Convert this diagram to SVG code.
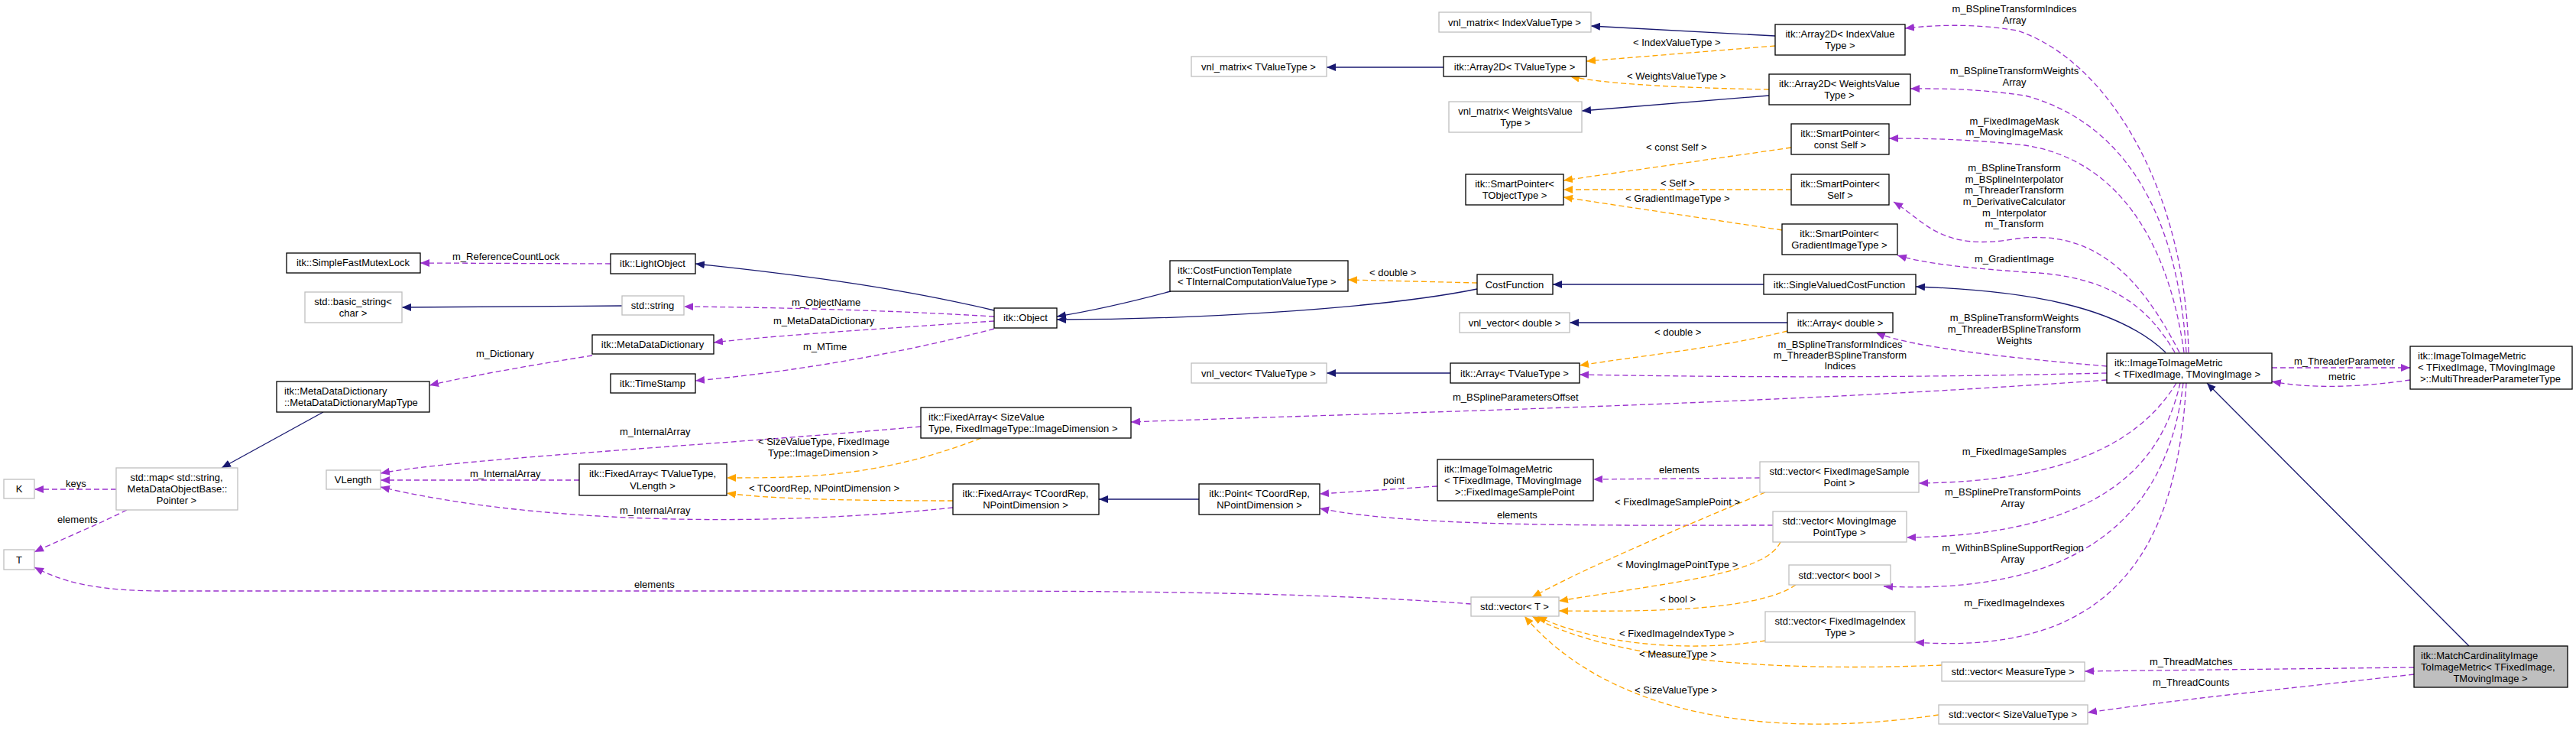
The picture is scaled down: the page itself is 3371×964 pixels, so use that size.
<svg xmlns="http://www.w3.org/2000/svg" width="3371" height="964" viewBox="0 0 3371 964">
<style>
text{font-family:"Liberation Sans",Arial,sans-serif;font-size:13px;fill:#000}
.n rect{fill:#fff;stroke:#000;stroke-width:1.3}
.g rect{fill:#fff;stroke:#bfbfbf;stroke-width:1.3}
.c{text-anchor:middle}
.s{fill:none;stroke:#191970;stroke-width:1.3}
.p{fill:none;stroke:#9a32cd;stroke-width:1.3;stroke-dasharray:7,4}
.o{fill:none;stroke:#ffa500;stroke-width:1.3;stroke-dasharray:7,4}
.s{marker-end:url(#ms)}.p{marker-end:url(#mp)}.o{marker-end:url(#mo)}
</style>
<defs>
<marker id="ms" viewBox="0 0 12 10" refX="12" refY="5" markerWidth="12" markerHeight="10" markerUnits="userSpaceOnUse" orient="auto"><path d="M0,0L12,5L0,10z" fill="#191970"/></marker>
<marker id="mp" viewBox="0 0 12 10" refX="12" refY="5" markerWidth="12" markerHeight="10" markerUnits="userSpaceOnUse" orient="auto"><path d="M0,0L12,5L0,10z" fill="#9a32cd"/></marker>
<marker id="mo" viewBox="0 0 12 10" refX="12" refY="5" markerWidth="12" markerHeight="10" markerUnits="userSpaceOnUse" orient="auto"><path d="M0,0L12,5L0,10z" fill="#ffa500"/></marker>
</defs>
<rect width="3371" height="964" fill="#fff"/>
<g id="connectors">
<path class="p" d="M799,345 L550,344"/>
<path class="s" d="M814,400 L526,402"/>
<path class="s" d="M1301,406 C1150,370 1000,355 910,345"/>
<path class="p" d="M1301,414 C1150,405 1000,402 895,401"/>
<path class="p" d="M1301,420 C1150,430 1000,440 934,448"/>
<path class="p" d="M1301,430 C1150,470 1000,490 910,498"/>
<path class="s" d="M1532,381 C1480,395 1420,408 1383,414"/>
<path class="s" d="M1933,378 C1800,405 1550,418 1383,418"/>
<path class="p" d="M775,465 C680,480 600,495 562,504"/>
<path class="s" d="M423,539 L290,612"/>
<path class="p" d="M152,640 L45,640"/>
<path class="p" d="M166,667 C120,690 70,710 45,722"/>
<path class="p" d="M1205,558 C900,585 600,600 498,619"/>
<path class="p" d="M758,628 L498,628"/>
<path class="p" d="M1247,664 C1000,690 700,685 498,637"/>
<path class="o" d="M1284,573 C1150,625 1050,625 951,625"/>
<path class="o" d="M1247,655 C1100,655 1000,652 951,645"/>
<path class="s" d="M1569,653 L1438,653"/>
<path class="p" d="M1881,636 L1727,646"/>
<path class="p" d="M2320,687 C2100,687 1850,690 1727,665"/>
<path class="p" d="M2303,625 L2085,627"/>
<path class="p" d="M2757,497 C2300,530 1800,540 1480,552"/>
<path class="p" d="M2757,488 C2500,494 2300,494 2067,490"/>
<path class="p" d="M2757,479 C2650,470 2500,455 2455,435"/>
<path class="o" d="M2339,433 C2250,455 2150,465 2067,478"/>
<path class="s" d="M2339,422 L2054,422"/>
<path class="s" d="M1898,488 L1736,488"/>
<path class="o" d="M1933,370 L1764,366"/>
<path class="s" d="M2308,372 L2032,372"/>
<path class="s" d="M2834,461 C2770,400 2650,380 2507,375"/>
<path class="s" d="M2323,47 L2082,34"/>
<path class="o" d="M2323,60 L2076,80"/>
<path class="s" d="M1889,88 L1736,88"/>
<path class="o" d="M2315,117 C2200,115 2100,110 2055,100"/>
<path class="s" d="M2315,125 L2070,145"/>
<path class="o" d="M2344,193 L2046,236"/>
<path class="o" d="M2344,248 L2046,248"/>
<path class="o" d="M2332,301 L2046,258"/>
<path class="p" d="M2864,461 C2860,250 2760,80 2640,40 C2580,30 2530,33 2493,37"/>
<path class="p" d="M2861,461 C2850,280 2780,160 2650,125 C2580,115 2530,116 2500,116"/>
<path class="p" d="M2858,461 C2840,330 2780,210 2650,190 C2580,182 2520,181 2472,181"/>
<path class="p" d="M2852,461 C2800,360 2740,300 2640,312 C2540,330 2520,290 2478,264"/>
<path class="p" d="M2846,461 C2810,400 2760,360 2650,356 C2570,350 2520,345 2483,334"/>
<path class="p" d="M2848,501 C2800,580 2700,630 2511,632"/>
<path class="p" d="M2853,501 C2830,600 2760,700 2495,703"/>
<path class="p" d="M2857,501 C2840,650 2750,780 2465,767"/>
<path class="p" d="M2861,501 C2850,700 2780,860 2506,840"/>
<path class="p" d="M2973,481 L3154,481"/>
<path class="p" d="M3154,497 C3100,505 3030,510 2973,499"/>
<path class="s" d="M3231,845 L2888,501"/>
<path class="p" d="M3159,873 L2728,878"/>
<path class="p" d="M3159,882 C3000,900 2850,915 2732,932"/>
<path class="o" d="M2310,644 C2200,690 2080,740 2005,781"/>
<path class="o" d="M2330,709 C2310,750 2200,760 2040,786"/>
<path class="o" d="M2350,765 C2300,800 2150,800 2040,799"/>
<path class="o" d="M2310,838 C2200,855 2080,840 2012,806"/>
<path class="o" d="M2541,870 C2300,880 2100,860 2005,806"/>
<path class="o" d="M2537,935 C2300,970 2100,930 1995,806"/>
<path class="p" d="M1925,790 C1700,773 1400,773 1200,773 L215,773 C120,773 80,760 45,742"/>
</g>
<g id="labels">
<text x="592" y="340">m_ReferenceCountLock</text>
<text x="1036" y="400">m_ObjectName</text>
<text x="1012" y="424">m_MetaDataDictionary</text>
<text x="1051" y="458">m_MTime</text>
<text x="623" y="467">m_Dictionary</text>
<text x="86" y="637">keys</text>
<text x="75" y="684">elements</text>
<text x="811" y="569">m_InternalArray</text>
<text x="615" y="624">m_InternalArray</text>
<text x="811" y="672">m_InternalArray</text>
<text x="992" y="582">&lt; SizeValueType, FixedImage</text>
<text x="1005" y="597">Type::ImageDimension &gt;</text>
<text x="980" y="643">&lt; TCoordRep, NPointDimension &gt;</text>
<text x="1792" y="361">&lt; double &gt;</text>
<text x="2137" y="60">&lt; IndexValueType &gt;</text>
<text x="2129" y="104">&lt; WeightsValueType &gt;</text>
<text x="2154" y="197">&lt; const Self &gt;</text>
<text x="2173" y="244">&lt; Self &gt;</text>
<text x="2127" y="264">&lt; GradientImageType &gt;</text>
<text x="2165" y="439">&lt; double &gt;</text>
<text class="c" x="2408" y="455">m_BSplineTransformIndices</text>
<text class="c" x="2408" y="469">m_ThreaderBSplineTransform</text>
<text class="c" x="2408" y="483">Indices</text>
<text x="1901" y="524">m_BSplineParametersOffset</text>
<text x="1810" y="633">point</text>
<text x="2171" y="619">elements</text>
<text x="2113" y="661">&lt; FixedImageSamplePoint &gt;</text>
<text x="1959" y="678">elements</text>
<text x="2116" y="743">&lt; MovingImagePointType &gt;</text>
<text x="2172" y="788">&lt; bool &gt;</text>
<text x="2119" y="833">&lt; FixedImageIndexType &gt;</text>
<text x="2145" y="860">&lt; MeasureType &gt;</text>
<text x="2139" y="907">&lt; SizeValueType &gt;</text>
<text x="830" y="769">elements</text>
<text class="c" x="2636" y="16">m_BSplineTransformIndices</text>
<text class="c" x="2636" y="31">Array</text>
<text class="c" x="2636" y="97">m_BSplineTransformWeights</text>
<text class="c" x="2636" y="112">Array</text>
<text class="c" x="2636" y="163">m_FixedImageMask</text>
<text class="c" x="2636" y="177">m_MovingImageMask</text>
<text class="c" x="2636" y="224">m_BSplineTransform</text>
<text class="c" x="2636" y="239">m_BSplineInterpolator</text>
<text class="c" x="2636" y="253">m_ThreaderTransform</text>
<text class="c" x="2636" y="268">m_DerivativeCalculator</text>
<text class="c" x="2636" y="283">m_Interpolator</text>
<text class="c" x="2636" y="297">m_Transform</text>
<text class="c" x="2636" y="343">m_GradientImage</text>
<text class="c" x="2636" y="420">m_BSplineTransformWeights</text>
<text class="c" x="2636" y="435">m_ThreaderBSplineTransform</text>
<text class="c" x="2636" y="450">Weights</text>
<text x="3002" y="477">m_ThreaderParameter</text>
<text x="3047" y="497">metric</text>
<text class="c" x="2636" y="595">m_FixedImageSamples</text>
<text class="c" x="2634" y="648">m_BSplinePreTransformPoints</text>
<text class="c" x="2634" y="663">Array</text>
<text class="c" x="2634" y="721">m_WithinBSplineSupportRegion</text>
<text class="c" x="2634" y="736">Array</text>
<text class="c" x="2636" y="793">m_FixedImageIndexes</text>
<text x="2813" y="870">m_ThreadMatches</text>
<text x="2817" y="897">m_ThreadCounts</text>
</g>
<g id="n1" class="n"><rect x="375" y="331" width="175" height="26"/><text class="c" x="462" y="348">itk::SimpleFastMutexLock</text></g>
<g id="n2" class="g"><rect x="399" y="382" width="127" height="40"/><text class="c" x="462" y="399">std::basic_string&lt;</text><text class="c" x="462" y="414">char &gt;</text></g>
<g id="n3" class="n"><rect x="362" y="499" width="200" height="40"/><text x="372" y="516">itk::MetaDataDictionary</text><text x="372" y="531">::MetaDataDictionaryMapType</text></g>
<g id="n4" class="g"><rect x="152" y="612" width="159" height="55"/><text class="c" x="231" y="629">std::map&lt; std::string,</text><text class="c" x="232" y="644">MetaDataObjectBase::</text><text class="c" x="231" y="659">Pointer &gt;</text></g>
<g id="n5" class="g"><rect x="5" y="627" width="40" height="25"/><text class="c" x="25" y="644">K</text></g>
<g id="n6" class="g"><rect x="5" y="719" width="40" height="26"/><text class="c" x="25" y="737">T</text></g>
<g id="n7" class="g"><rect x="427" y="615" width="71" height="25"/><text class="c" x="462" y="632">VLength</text></g>
<g id="n8" class="n"><rect x="799" y="332" width="111" height="26"/><text class="c" x="854" y="349">itk::LightObject</text></g>
<g id="n9" class="g"><rect x="814" y="387" width="81" height="25"/><text class="c" x="854" y="404">std::string</text></g>
<g id="n10" class="n"><rect x="775" y="438" width="159" height="25"/><text class="c" x="854" y="455">itk::MetaDataDictionary</text></g>
<g id="n11" class="n"><rect x="799" y="489" width="111" height="25"/><text class="c" x="854" y="506">itk::TimeStamp</text></g>
<g id="n12" class="n"><rect x="1301" y="403" width="82" height="26"/><text class="c" x="1342" y="420">itk::Object</text></g>
<g id="n13" class="n"><rect x="758" y="607" width="193" height="41"/><text class="c" x="854" y="624">itk::FixedArray&lt; TValueType,</text><text class="c" x="854" y="640">VLength &gt;</text></g>
<g id="n14" class="n"><rect x="1205" y="533" width="275" height="40"/><text x="1215" y="550">itk::FixedArray&lt; SizeValue</text><text x="1215" y="565">Type, FixedImageType::ImageDimension &gt;</text></g>
<g id="n15" class="n"><rect x="1247" y="633" width="191" height="40"/><text class="c" x="1342" y="650">itk::FixedArray&lt; TCoordRep,</text><text class="c" x="1342" y="665">NPointDimension &gt;</text></g>
<g id="n16" class="n"><rect x="1531" y="341" width="233" height="40"/><text x="1541" y="358">itk::CostFunctionTemplate</text><text x="1541" y="373">&lt; TInternalComputationValueType &gt;</text></g>
<g id="n17" class="n"><rect x="1933" y="359" width="99" height="26"/><text class="c" x="1982" y="377">CostFunction</text></g>
<g id="n18" class="g"><rect x="1559" y="74" width="177" height="26"/><text class="c" x="1647" y="92">vnl_matrix&lt; TValueType &gt;</text></g>
<g id="n19" class="n"><rect x="1889" y="74" width="187" height="26"/><text class="c" x="1982" y="92">itk::Array2D&lt; TValueType &gt;</text></g>
<g id="n20" class="g"><rect x="1883" y="16" width="199" height="26"/><text class="c" x="1982" y="34">vnl_matrix&lt; IndexValueType &gt;</text></g>
<g id="n21" class="g"><rect x="1896" y="133" width="174" height="40"/><text class="c" x="1983" y="150">vnl_matrix&lt; WeightsValue</text><text class="c" x="1983" y="165">Type &gt;</text></g>
<g id="n22" class="n"><rect x="1918" y="228" width="128" height="40"/><text class="c" x="1982" y="245">itk::SmartPointer&lt;</text><text class="c" x="1982" y="260">TObjectType &gt;</text></g>
<g id="n23" class="g"><rect x="1910" y="409" width="144" height="26"/><text class="c" x="1982" y="427">vnl_vector&lt; double &gt;</text></g>
<g id="n24" class="g"><rect x="1559" y="475" width="177" height="26"/><text class="c" x="1647" y="493">vnl_vector&lt; TValueType &gt;</text></g>
<g id="n25" class="n"><rect x="1898" y="475" width="169" height="26"/><text class="c" x="1982" y="493">itk::Array&lt; TValueType &gt;</text></g>
<g id="n26" class="n"><rect x="1569" y="633" width="158" height="40"/><text class="c" x="1648" y="650">itk::Point&lt; TCoordRep,</text><text class="c" x="1648" y="665">NPointDimension &gt;</text></g>
<g id="n27" class="n"><rect x="1881" y="601" width="204" height="54"/><text x="1890" y="618">itk::ImageToImageMetric</text><text x="1890" y="633">&lt; TFixedImage, TMovingImage</text><text x="1904" y="648">&gt;::FixedImageSamplePoint</text></g>
<g id="n28" class="g"><rect x="1925" y="781" width="115" height="25"/><text class="c" x="1982" y="798">std::vector&lt; T &gt;</text></g>
<g id="n29" class="n"><rect x="2323" y="32" width="170" height="40"/><text class="c" x="2408" y="49">itk::Array2D&lt; IndexValue</text><text class="c" x="2408" y="64">Type &gt;</text></g>
<g id="n30" class="n"><rect x="2315" y="97" width="185" height="40"/><text class="c" x="2407" y="114">itk::Array2D&lt; WeightsValue</text><text class="c" x="2407" y="129">Type &gt;</text></g>
<g id="n31" class="n"><rect x="2344" y="162" width="128" height="40"/><text class="c" x="2408" y="179">itk::SmartPointer&lt;</text><text class="c" x="2408" y="194">const Self &gt;</text></g>
<g id="n32" class="n"><rect x="2344" y="228" width="128" height="40"/><text class="c" x="2408" y="245">itk::SmartPointer&lt;</text><text class="c" x="2408" y="260">Self &gt;</text></g>
<g id="n33" class="n"><rect x="2332" y="293" width="151" height="40"/><text class="c" x="2407" y="310">itk::SmartPointer&lt;</text><text class="c" x="2407" y="325">GradientImageType &gt;</text></g>
<g id="n34" class="n"><rect x="2308" y="359" width="199" height="26"/><text class="c" x="2407" y="377">itk::SingleValuedCostFunction</text></g>
<g id="n35" class="n"><rect x="2339" y="409" width="138" height="26"/><text class="c" x="2408" y="427">itk::Array&lt; double &gt;</text></g>
<g id="n36" class="g"><rect x="2303" y="604" width="208" height="40"/><text class="c" x="2407" y="621">std::vector&lt; FixedImageSample</text><text class="c" x="2407" y="636">Point &gt;</text></g>
<g id="n37" class="g"><rect x="2320" y="669" width="175" height="40"/><text class="c" x="2407" y="686">std::vector&lt; MovingImage</text><text class="c" x="2407" y="701">PointType &gt;</text></g>
<g id="n38" class="g"><rect x="2341" y="739" width="133" height="26"/><text class="c" x="2407" y="757">std::vector&lt; bool &gt;</text></g>
<g id="n39" class="g"><rect x="2310" y="800" width="196" height="40"/><text class="c" x="2408" y="817">std::vector&lt; FixedImageIndex</text><text class="c" x="2408" y="832">Type &gt;</text></g>
<g id="n40" class="g"><rect x="2541" y="866" width="187" height="25"/><text class="c" x="2634" y="883">std::vector&lt; MeasureType &gt;</text></g>
<g id="n41" class="g"><rect x="2537" y="922" width="195" height="25"/><text class="c" x="2634" y="939">std::vector&lt; SizeValueType &gt;</text></g>
<g id="n42" class="n"><rect x="2757" y="462" width="216" height="39"/><text x="2767" y="479">itk::ImageToImageMetric</text><text x="2767" y="494">&lt; TFixedImage, TMovingImage &gt;</text></g>
<g id="n43" class="n"><rect x="3154" y="453" width="212" height="56"/><text x="3164" y="470">itk::ImageToImageMetric</text><text x="3164" y="485">&lt; TFixedImage, TMovingImage</text><text x="3167" y="500">&gt;::MultiThreaderParameterType</text></g>
<g id="n44" class="n"><rect x="3159" y="845" width="201" height="54" style="fill:#bfbfbf"/><text x="3168" y="862">itk::MatchCardinalityImage</text><text x="3168" y="877">ToImageMetric&lt; TFixedImage,</text><text class="c" x="3259" y="892">TMovingImage &gt;</text></g>
</svg>
